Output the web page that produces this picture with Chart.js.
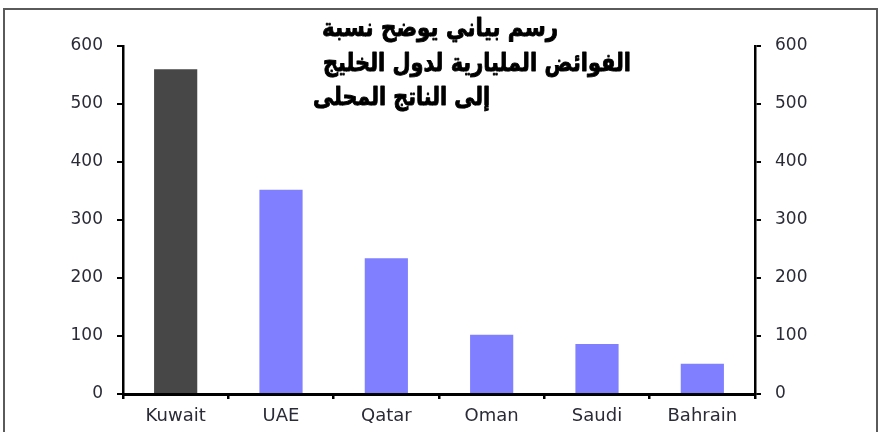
<!DOCTYPE html>
<html>
<head>
<meta charset="utf-8">
<script src="https://cdn.jsdelivr.net/npm/chart.js@4/dist/chart.umd.min.js"></script>
<style>
html,body{margin:0;padding:0;background:#fff;overflow:hidden;}
#frame{position:absolute;left:3px;top:8px;width:871px;height:440px;border:2px solid #5a5a5a;border-bottom:none;}
#wrap{position:absolute;left:0;top:0;width:879px;height:432px;}
</style>
</head>
<body>
<div id="frame"></div>
<div id="wrap"><canvas id="c" width="879" height="432"></canvas></div>
<script>
const categories = ["Kuwait", "UAE", "Qatar", "Oman", "Saudi", "Bahrain"];
const surplusValues = [560, 352, 234, 102, 86, 52];
const yTickValues = [0, 100, 200, 300, 400, 500, 600];
const titleLines = ["رسم بياني يوضح نسبة", "الفوائض المليارية لدول الخليج", "إلى الناتج المحلى"];

const tickFont = {family: "'DejaVu Sans', sans-serif", size: 17};
const xTickFont = {family: "'DejaVu Sans', sans-serif", size: 18};
const tickColor = "#2b2b38";

const titlePlugin = {
  id: "arabicTitle",
  afterDraw(chart) {
    const ctx = chart.ctx;
    const boxes = [[322, 558, 36], [323, 631, 71], [313, 490, 105]];
    ctx.save();
    ctx.font = "bold 25px 'DejaVu Sans', sans-serif";
    ctx.fillStyle = "#000";
    ctx.strokeStyle = "#000";
    ctx.lineWidth = 0.9;
    ctx.lineJoin = "round";
    ctx.textBaseline = "alphabetic";
    ctx.direction = "rtl";
    ctx.textAlign = "right";
    titleLines.forEach((t, i) => {
      const [l, r, b] = boxes[i];
      const w = ctx.measureText(t).width;
      const sx = (r - l) / w;
      ctx.save();
      ctx.translate(r, b);
      ctx.scale(sx, 1);
      ctx.fillText(t, 0, 0);
      ctx.strokeText(t, 0, 0);
      ctx.restore();
    });
    ctx.restore();
  }
};

const yAxisCommon = {
  type: "linear",
  min: 0,
  max: 600,
  afterBuildTicks(scale) { scale.ticks = yTickValues.map(v => ({value: v})); },
  ticks: {color: tickColor, font: tickFont, padding: 14},
  grid: {drawOnChartArea: false, drawTicks: true, tickLength: 6, color: "#000", lineWidth: 2},
  border: {display: true, color: "#000", width: 2.5}
};

new Chart(document.getElementById("c"), {
  type: "bar",
  data: {
    labels: categories,
    datasets: [{
      data: surplusValues,
      backgroundColor: ["#474747", "#7f7fff", "#7f7fff", "#7f7fff", "#7f7fff", "#7f7fff"],
      barPercentage: 0.41,
      categoryPercentage: 1.0,
      yAxisID: "y"
    }]
  },
  options: {
    responsive: false,
    animation: false,
    devicePixelRatio: 1,
    layout: {padding: {top: 46, left: 0, right: 0, bottom: 0}},
    plugins: {legend: {display: false}, tooltip: {enabled: false}, title: {display: false}},
    scales: {
      x: {
        offset: true,
        afterFit(scale) { scale.height = 38; },
        ticks: {color: tickColor, font: xTickFont, padding: 7},
        grid: {offset: true, drawOnChartArea: false, drawTicks: true, tickLength: 5, color: "#000", lineWidth: 2.5},
        border: {display: true, color: "#000", width: 3}
      },
      y: Object.assign({}, yAxisCommon, {position: "left", afterFit(scale) { scale.width = 123; }}),
      y2: Object.assign({}, yAxisCommon, {position: "right", afterFit(scale) { scale.width = 124; }})
    }
  },
  plugins: [titlePlugin]
});
</script>
</body>
</html>
